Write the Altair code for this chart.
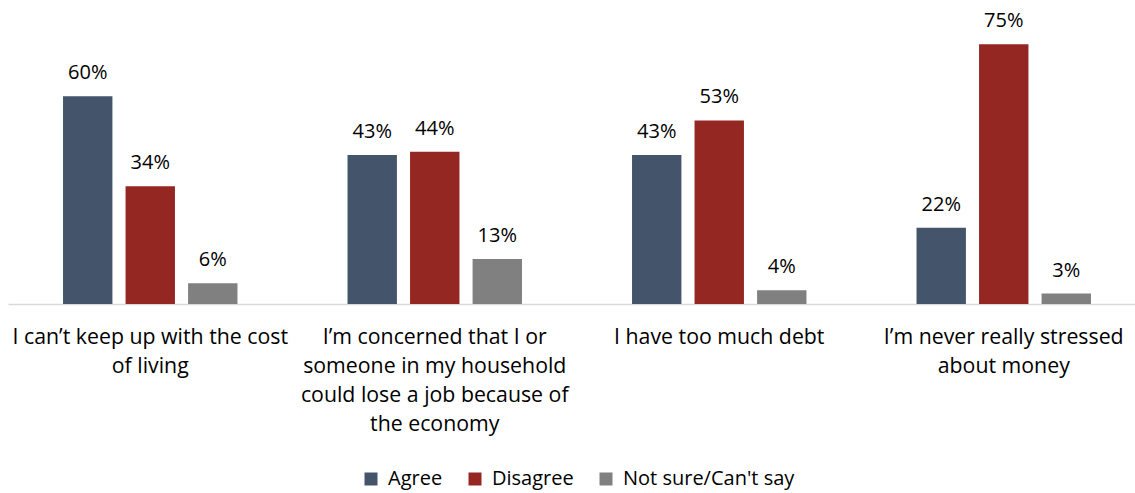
import altair as alt
import pandas as pd

statements = [
    "I can\u2019t keep up with the cost|of living",
    "I\u2019m concerned that I or|someone in my household|could lose a job because of|the economy",
    "I have too much debt",
    "I\u2019m never really stressed|about money",
]
responses = ["Agree", "Disagree", "Not sure/Can't say"]
agree = [60, 43, 43, 22]
disagree = [34, 44, 53, 75]
not_sure = [6, 13, 4, 3]
colors = ["#44546A", "#942722", "#808080"]

rows = []
for i, s in enumerate(statements):
    for r, vals in zip(responses, [agree, disagree, not_sure]):
        rows.append({"statement": s, "response": r, "value": vals[i]})
df = pd.DataFrame(rows)

FONT = "Open Sans"
FS = 20

base = alt.Chart(df).encode(
    x=alt.X(
        "statement:N",
        sort=statements,
        scale=alt.Scale(range=[0, 1138], paddingInner=0, paddingOuter=0),
        axis=alt.Axis(
            title=None,
            ticks=False,
            labelAngle=0,
            labelExpr="split(datum.label, '|')",
            labelFont=FONT,
            labelFontSize=21.3,
            labelColor="#000000",
            labelLineHeight=29,
            labelBaseline="top",
            labelPadding=22,
            domainColor="#D9D9D9",
            domainWidth=1.5,
            labelLimit=400,
        ),
    ),
    xOffset=alt.XOffset(
        "response:N",
        sort=responses,
        scale=alt.Scale(paddingInner=0.21, paddingOuter=0.88),
    ),
    y=alt.Y("value:Q", scale=alt.Scale(domain=[0, 80]), axis=None),
)

bars = base.mark_bar().encode(
    color=alt.Color(
        "response:N",
        sort=responses,
        scale=alt.Scale(domain=responses, range=colors),
        legend=alt.Legend(
            title=None,
            orient="none",
            direction="horizontal",
            legendX=353,
            legendY=442,
            symbolType="square",
            symbolSize=169,
            symbolStrokeWidth=0,
            labelFont=FONT,
            labelFontSize=FS,
            labelColor="#000000",
            labelOffset=7,
            labelLimit=400,
            columnPadding=22,
        ),
    )
)

labels = base.mark_text(
    font=FONT, fontSize=FS, color="#000000", baseline="alphabetic", dy=-17
).encode(text=alt.Text("label:N")).transform_calculate(
    label="datum.value + '%'"
)

chart = (
    alt.layer(bars, labels)
    .properties(
        width=1127,
        height=277,
        autosize=alt.AutoSizeParams(type="none"),
        padding={"left": 8, "top": 27, "right": 0, "bottom": 189},
        view=alt.ViewBackground(stroke=None, strokeWidth=0),
    )
    .configure_view(strokeWidth=0, stroke=None)
    .configure(background="#FFFFFF")
)

chart.save("out.html", embed_options={"renderer": "svg", "actions": False})
